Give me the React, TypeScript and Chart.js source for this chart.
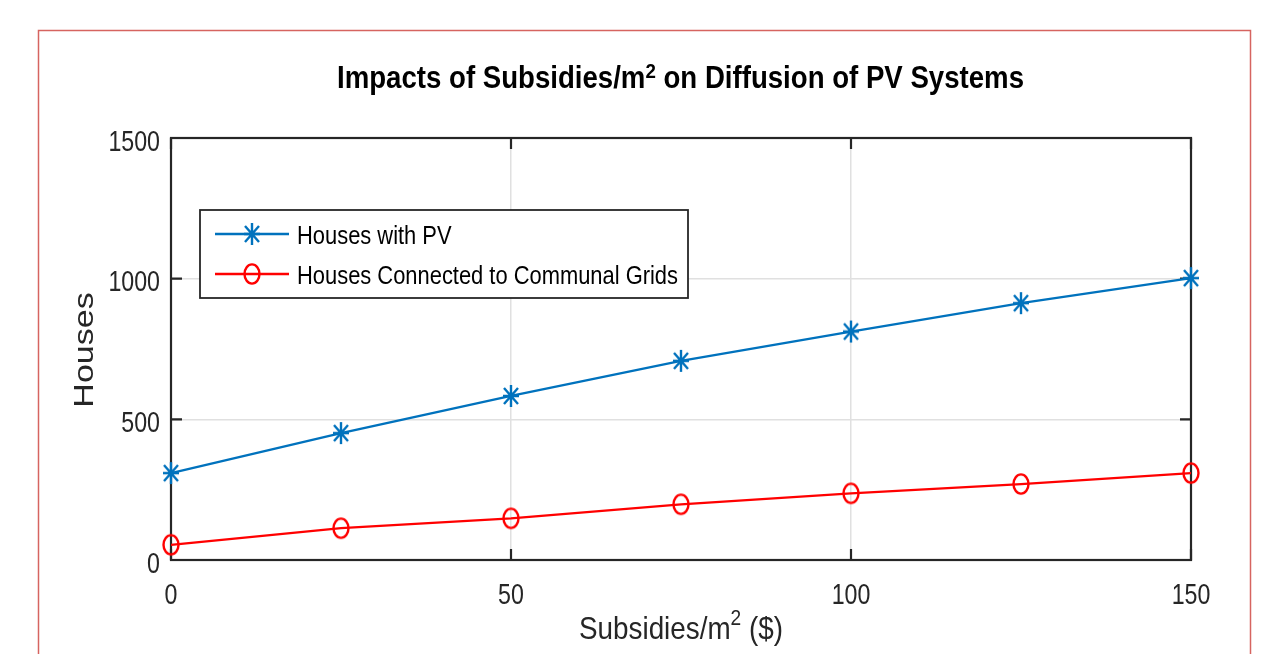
import { useEffect, useRef } from "react";
import { Chart, registerables } from "chart.js";

Chart.register(...registerables);

const subsidies = [0, 25, 50, 75, 100, 125, 150];
const housesWithPV = [309, 451, 583, 708, 812, 913, 1002];
const housesCommunal = [54, 113, 148, 198, 237, 270, 309];
const xTicks = [0, 50, 100, 150];
const yTicks = [0, 500, 1000, 1500];
const seriesNames = ["Houses with PV", "Houses Connected to Communal Grids"];
const seriesColors = ["#0072BD", "#FF0000"];
const titleParts = ["Impacts of Subsidies/m", "2", " on Diffusion of PV Systems"];
const xLabelParts = ["Subsidies/m", "2", " ($)"];
const yLabel = "Houses";

const FONT = "'Liberation Sans', Arial, Helvetica, sans-serif";
const AXIS_COLOR = "#262626";

function makeStar(color: string) {
  const c = document.createElement("canvas");
  c.width = 20;
  c.height = 24;
  const g = c.getContext("2d")!;
  g.strokeStyle = color;
  g.lineWidth = 2.4;
  g.beginPath();
  g.moveTo(10, 1); g.lineTo(10, 23);
  g.moveTo(2, 12); g.lineTo(18, 12);
  g.moveTo(3, 4); g.lineTo(17, 20);
  g.moveTo(17, 4); g.lineTo(3, 20);
  g.stroke();
  return c;
}

function makeCircle(color: string) {
  const c = document.createElement("canvas");
  c.width = 20;
  c.height = 24;
  const g = c.getContext("2d")!;
  g.strokeStyle = color;
  g.lineWidth = 2.4;
  g.beginPath();
  g.ellipse(10, 12, 7.5, 9.6, 0, 0, Math.PI * 2);
  g.stroke();
  return c;
}

function drawScaled(ctx: CanvasRenderingContext2D, text: string, x: number, y: number, font: string, sx: number, align: CanvasTextAlign, color: string) {
  ctx.save();
  ctx.font = font;
  ctx.fillStyle = color;
  ctx.textAlign = align;
  ctx.textBaseline = "alphabetic";
  ctx.translate(x, y);
  ctx.scale(sx, 1);
  ctx.fillText(text, 0, 0);
  ctx.restore();
}

function drawSupText(
  ctx: CanvasRenderingContext2D,
  parts: string[],
  left: number,
  right: number,
  baseline: number,
  mainFont: string,
  supFont: string,
  supRaise: number,
  color: string
) {
  ctx.save();
  ctx.font = mainFont;
  const w1 = ctx.measureText(parts[0]).width;
  const w3 = ctx.measureText(parts[2]).width;
  ctx.font = supFont;
  const w2 = ctx.measureText(parts[1]).width;
  const total = w1 + w2 + w3;
  const sx = (right - left) / total;
  ctx.restore();
  drawScaled(ctx, parts[0], left, baseline, mainFont, sx, "left", color);
  drawScaled(ctx, parts[1], left + w1 * sx, baseline - supRaise, supFont, sx, "left", color);
  drawScaled(ctx, parts[2], left + (w1 + w2) * sx, baseline, mainFont, sx, "left", color);
}

export default function App() {
  const ref = useRef<HTMLCanvasElement | null>(null);

  useEffect(() => {
    if (!ref.current) return;
    const starImg = makeStar(seriesColors[0]);
    const circleImg = makeCircle(seriesColors[1]);
    const markers = [starImg, circleImg];

    const decor = {
      id: "decor",
      beforeDatasetsDraw(chart: any) {
        const { ctx, chartArea: a, scales } = chart;
        const x = scales.x;
        const y = scales.y;
        ctx.save();
        ctx.strokeStyle = AXIS_COLOR;
        ctx.lineWidth = 2.2;
        ctx.beginPath();
        for (const v of xTicks) {
          const px = x.getPixelForValue(v);
          ctx.moveTo(px, a.bottom);
          ctx.lineTo(px, a.bottom - 11);
          ctx.moveTo(px, a.top);
          ctx.lineTo(px, a.top + 11);
        }
        for (const v of yTicks) {
          const py = y.getPixelForValue(v);
          ctx.moveTo(a.left, py);
          ctx.lineTo(a.left + 11, py);
          ctx.moveTo(a.right, py);
          ctx.lineTo(a.right - 11, py);
        }
        ctx.stroke();
        ctx.strokeRect(a.left, a.top, a.right - a.left, a.bottom - a.top);
        ctx.restore();
      },
      afterDraw(chart: any) {
        const { ctx, scales } = chart;
        const x = scales.x;
        const y = scales.y;

        // tick labels
        const tickFont = `29px ${FONT}`;
        for (const v of yTicks) {
          drawScaled(ctx, String(v), 160, y.getPixelForValue(v) + 12.5, tickFont, 0.8, "right", AXIS_COLOR);
        }
        for (const v of xTicks) {
          drawScaled(ctx, String(v), x.getPixelForValue(v), 604, tickFont, 0.8, "center", AXIS_COLOR);
        }

        // title
        drawSupText(ctx, titleParts, 337, 1024, 88, `bold 31px ${FONT}`, `bold 21px ${FONT}`, 10, "#000000");

        // x label
        drawSupText(ctx, xLabelParts, 579, 783, 639, `32px ${FONT}`, `22px ${FONT}`, 14, AXIS_COLOR);

        // y label
        ctx.save();
        ctx.font = `34px ${FONT}`;
        ctx.fillStyle = AXIS_COLOR;
        ctx.textAlign = "center";
        ctx.textBaseline = "alphabetic";
        ctx.translate(93, 350);
        ctx.scale(0.82, 1);
        ctx.rotate(-Math.PI / 2);
        ctx.fillText(yLabel, 0, 0);
        ctx.restore();

        // legend
        const lx0 = 200, ly0 = 210, lx1 = 688, ly1 = 298;
        ctx.save();
        ctx.fillStyle = "#ffffff";
        ctx.fillRect(lx0, ly0, lx1 - lx0, ly1 - ly0);
        ctx.strokeStyle = AXIS_COLOR;
        ctx.lineWidth = 1.8;
        ctx.strokeRect(lx0, ly0, lx1 - lx0, ly1 - ly0);
        const legFont = `26px ${FONT}`;
        ctx.font = legFont;
        const longest = ctx.measureText(seriesNames[1]).width;
        const lsx = (678 - 297) / longest;
        const rows = [234, 274];
        seriesNames.forEach((name, i) => {
          const ry = rows[i];
          ctx.strokeStyle = seriesColors[i];
          ctx.lineWidth = 2.4;
          ctx.beginPath();
          ctx.moveTo(215, ry);
          ctx.lineTo(289, ry);
          ctx.stroke();
          const m = markers[i];
          ctx.drawImage(m, 252 - m.width / 2, ry - m.height / 2);
          drawScaled(ctx, name, 297, ry + 9.5, legFont, lsx, "left", "#000000");
        });
        ctx.restore();

        // outer frame
        ctx.save();
        ctx.strokeStyle = "rgb(214, 100, 96)";
        ctx.lineWidth = 1.5;
        ctx.strokeRect(38.5, 30.5, 1212, 700);
        ctx.restore();
      },
    };

    const chart = new Chart(ref.current, {
      type: "line",
      data: {
        datasets: [
          {
            label: seriesNames[0],
            data: subsidies.map((s, i) => ({ x: s, y: housesWithPV[i] })),
            borderColor: seriesColors[0],
            backgroundColor: seriesColors[0],
            borderWidth: 2.3,
            pointStyle: starImg as any,
            pointRadius: 8,
            tension: 0,
            clip: false as any,
          },
          {
            label: seriesNames[1],
            data: subsidies.map((s, i) => ({ x: s, y: housesCommunal[i] })),
            borderColor: seriesColors[1],
            backgroundColor: seriesColors[1],
            borderWidth: 2.3,
            pointStyle: circleImg as any,
            pointRadius: 8,
            tension: 0,
            clip: false as any,
          },
        ],
      },
      options: {
        animation: false,
        responsive: true,
        maintainAspectRatio: false,
        events: [],
        layout: { padding: { left: 0, top: 138, right: 84, bottom: 0 } },
        plugins: {
          legend: { display: false },
          title: { display: false },
          tooltip: { enabled: false },
        },
        scales: {
          x: {
            type: "linear",
            min: 0,
            max: 150,
            afterBuildTicks: (s: any) => {
              s.ticks = xTicks.map((v) => ({ value: v }));
            },
            ticks: { display: false },
            grid: { color: "#e0e0e0", lineWidth: 1.5, drawTicks: false },
            border: { display: false },
            afterFit: (s: any) => {
              s.height = 94;
            },
          },
          y: {
            type: "linear",
            min: 0,
            max: 1500,
            afterBuildTicks: (s: any) => {
              s.ticks = yTicks.map((v) => ({ value: v }));
            },
            ticks: { display: false },
            grid: { color: "#e0e0e0", lineWidth: 1.5, drawTicks: false },
            border: { display: false },
            afterFit: (s: any) => {
              s.width = 171;
            },
          },
        },
      },
      plugins: [decor],
    });
    return () => chart.destroy();
  }, []);

  return (
    <div style={{ position: "fixed", left: 0, top: 0, width: 1275, height: 654, background: "#ffffff" }}>
      <canvas ref={ref} />
    </div>
  );
}
